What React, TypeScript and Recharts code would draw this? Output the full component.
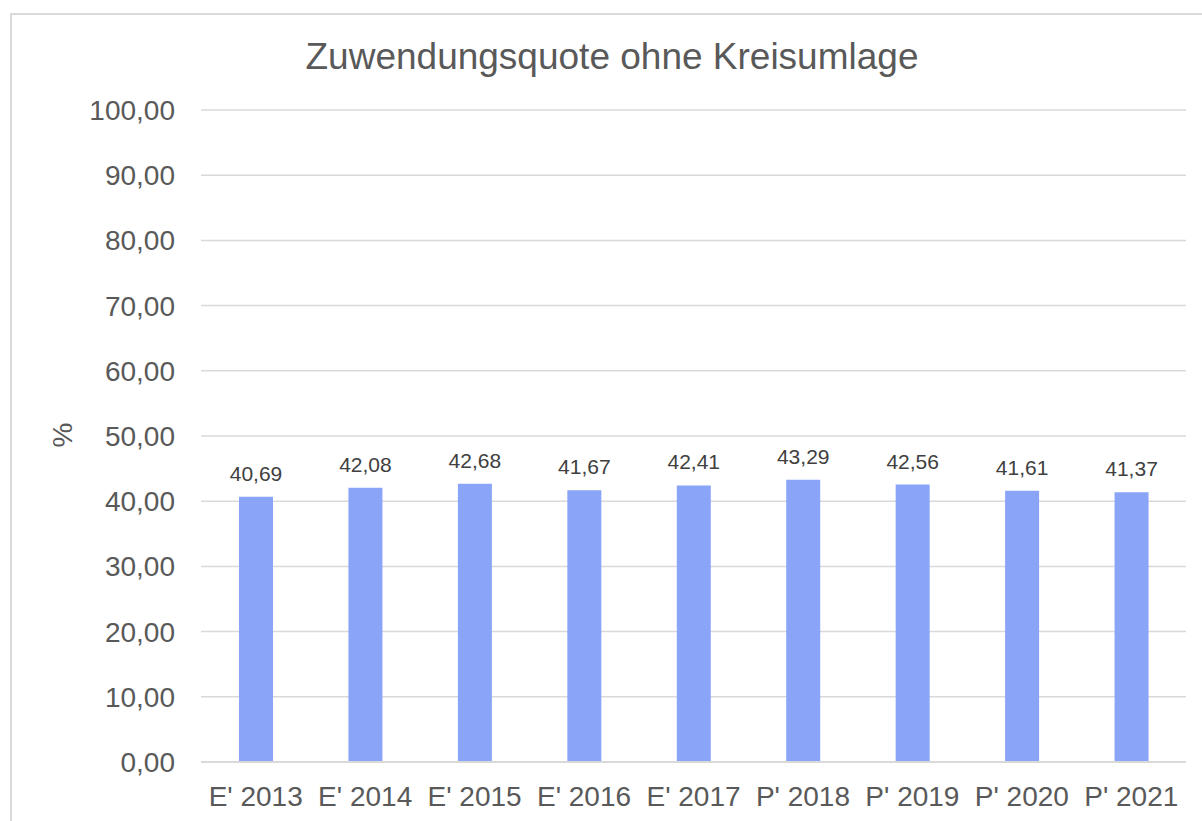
import React from 'react';
import { BarChart, Bar, XAxis, YAxis, CartesianGrid, LabelList } from 'recharts';

const categories = ["E' 2013", "E' 2014", "E' 2015", "E' 2016", "E' 2017", "P' 2018", "P' 2019", "P' 2020", "P' 2021"];
const values = [40.69, 42.08, 42.68, 41.67, 42.41, 43.29, 42.56, 41.61, 41.37];
const yTicks = [0, 10, 20, 30, 40, 50, 60, 70, 80, 90, 100];
const title = 'Zuwendungsquote ohne Kreisumlage';
const yLabel = '%';

const data = categories.map((c, i) => ({ name: c, value: values[i] }));
const fmt = (v: number) => v.toFixed(2).replace('.', ',');
const FONT = '"Liberation Sans", Arial, sans-serif';

export default function App() {
  return (
    <div style={{ position: 'absolute', left: 0, top: 0, width: 1202, height: 821, background: '#fff', overflow: 'hidden', fontFamily: FONT }}>
      <div style={{ position: 'absolute', left: 10, top: 13, width: 1400, height: 1000, borderLeft: '2px solid #d9d9d9', borderTop: '2px solid #d9d9d9' }} />
      <div style={{ position: 'absolute', left: 0, top: 0 }}>
        <BarChart width={1202} height={821} data={data} margin={{ top: 110, right: 16, left: 0, bottom: 0 }}>
          <CartesianGrid vertical={false} stroke="#d9d9d9" strokeWidth={1.5} />
          <XAxis
            dataKey="name"
            height={59}
            axisLine={{ stroke: '#d9d9d9', strokeWidth: 2 }}
            tickLine={false}
            tickSize={0}
            tickMargin={24}
            interval={0}
            tick={{ fill: '#595959', fontSize: 28, fontFamily: FONT }}
          />
          <YAxis
            width={201}
            domain={[0, 100]}
            ticks={yTicks}
            interval={0}
            axisLine={false}
            tickLine={false}
            tickSize={0}
            tickMargin={26}
            tickFormatter={fmt}
            tick={{ fill: '#595959', fontSize: 28, fontFamily: FONT }}
          />
          <Bar dataKey="value" fill="#8aa4f8" barSize={34} isAnimationActive={false}>
            <LabelList dataKey="value" position="top" offset={16} formatter={(v: any) => fmt(Number(v))} style={{ fill: '#404040', fontSize: 21, fontFamily: FONT }} />
          </Bar>
        </BarChart>
      </div>
      <svg width={1202} height={821} style={{ position: 'absolute', left: 0, top: 0, pointerEvents: 'none' }}>
        <text x={612} y={69} textAnchor="middle" fill="#595959" fontSize={37} fontFamily={FONT}>{title}</text>
        <text x={62} y={435} textAnchor="middle" dominantBaseline="central" transform="rotate(-90 62 435)" fill="#595959" fontSize={28} fontFamily={FONT}>{yLabel}</text>
      </svg>
    </div>
  );
}
